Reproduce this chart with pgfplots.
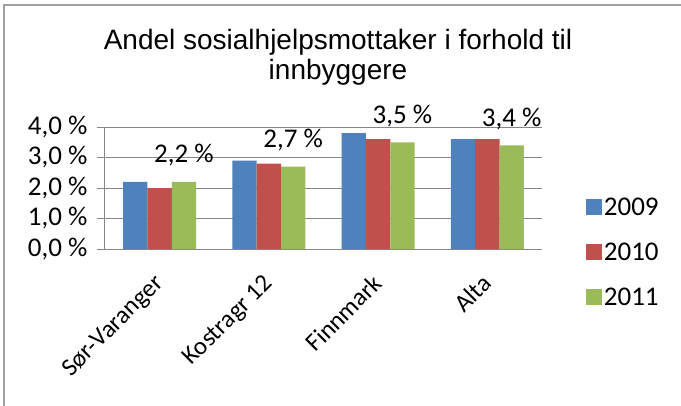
\documentclass[border=0pt]{standalone}
\usepackage{pgfplots}
\pgfplotsset{compat=1.18}
\usepackage{fontspec}
\setmainfont{Carlito}
\newfontfamily\titlefont{Liberation Sans}
\definecolor{cBlue}{HTML}{4F81BD}
\definecolor{cRed}{HTML}{C0504D}
\definecolor{cGreen}{HTML}{9BBB59}
\definecolor{gridgray}{HTML}{868686}
\definecolor{framegray}{HTML}{A0A0A0}
\begin{document}
\begin{tikzpicture}
\useasboundingbox (0pt,0pt) rectangle (681pt,405pt);
\fill[white] (0pt,0pt) rectangle (681pt,405pt);
\draw[framegray, line width=1.5pt] (4pt,-10pt) -- (4pt,400pt) -- (700pt,400pt);
\node[font=\titlefont\fontsize{28}{32}\selectfont, anchor=base] at (338pt,355pt) {Andel sosialhjelpsmottaker i forhold til};
\node[font=\titlefont\fontsize{28}{32}\selectfont, anchor=base] at (338pt,325pt) {innbyggere};
\begin{axis}[
  at={(105pt,156pt)}, anchor=south west,
  scale only axis, width=437pt, height=122pt,
  xmin=-0.5, xmax=3.5, ymin=0, ymax=4,
  ybar=0pt, bar width=24.3pt,
  axis lines=left, axis line style={-, gridgray, line width=1pt},
  ytick={0,1,2,3,4},
  yticklabels={{0,0 \%},{1,0 \%},{2,0 \%},{3,0 \%},{4,0 \%}},
  ymajorgrids, grid style={gridgray, line width=1pt},
  tick align=outside, major tick length=8pt,
  ytick style={gridgray, line width=1pt},
  xtick={0,1,2,3},
  xticklabels={Sør-Varanger,Kostragr 12,Finnmark,Alta},
  xtick style={draw=none},
  yticklabel style={font=\fontsize{27}{31}\selectfont, xshift=-6pt},
  xticklabel style={font=\fontsize{25}{29}\selectfont, rotate=45, anchor=north east, xshift=-12.7pt, yshift=-2.9pt},
  legend style={at={(1.1,-0.025)}, anchor=west, draw=none, fill=none,
    font=\fontsize{27}{31}\selectfont, row sep=22pt, inner sep=0pt},
  legend cell align=left,
  legend image code/.code={\fill[#1] (0pt,-8pt) rectangle (16pt,8pt);},
]
\addplot[fill=cBlue, draw=none] coordinates {(0,2.2) (1,2.9) (2,3.8) (3,3.6)};
\addplot[fill=cRed, draw=none] coordinates {(0,2.0) (1,2.8) (2,3.6) (3,3.6)};
\addplot[fill=cGreen, draw=none,
  point meta=explicit symbolic, nodes near coords,
  nodes near coords style={anchor=base, yshift=19pt, font=\fontsize{27}{31}\selectfont, text=black}]
  coordinates {(0,2.2) [2,2 \%] (1,2.7) [2,7 \%] (2,3.5) [3,5 \%] (3,3.4) [3,4 \%]};
\legend{2009,2010,2011}
\end{axis}
\end{tikzpicture}
\end{document}
